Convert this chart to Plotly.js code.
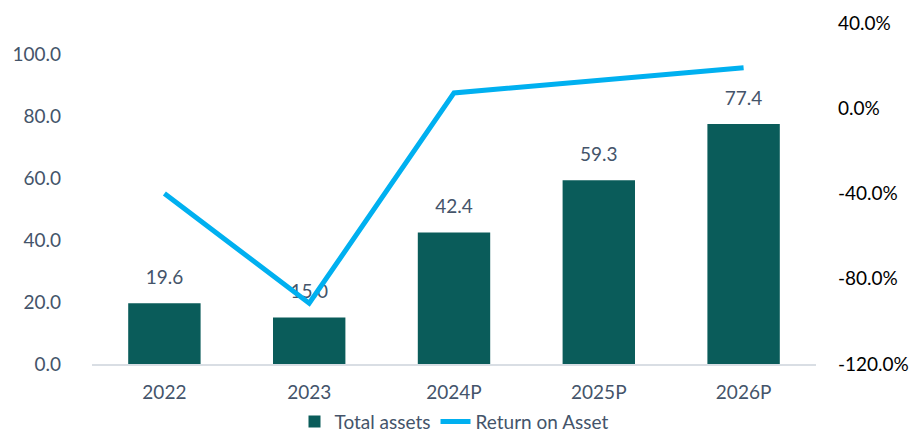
<!DOCTYPE html>
<html>
<head>
<meta charset="utf-8">
<script src="https://cdn.plot.ly/plotly-3.0.1.min.js"></script>
<style>
  html, body { margin: 0; padding: 0; background: #fff; }
  #chart { width: 918px; height: 437px; }
</style>
</head>
<body>
<div id="chart"></div>
<script>
const categories = ["2022", "2023", "2024P", "2025P", "2026P"]
const totalAssets = [19.6, 15.0, 42.4, 59.3, 77.4]
const returnOnAsset = [-40.0, -91.5, 7.2, 13.0, 19.0]
const roaTicks = [-120, -80, -40, 0, 40]

const slate = "#44546A"

async function createChart() {
    const assetsBars = {
        x: categories,
        y: totalAssets,
        type: "bar",
        name: "Total assets",
        marker: { color: "#0A5C5A" },
        hoverinfo: "skip"
    }

    // value labels sit a bit above each bar, under the line
    const assetsLabels = {
        x: categories,
        y: totalAssets,
        type: "scatter",
        mode: "markers+text",
        text: totalAssets.map(v => v.toFixed(1)),
        textposition: "top center",
        textfont: { family: "Lato, sans-serif", size: 19, color: slate },
        marker: { size: 22, opacity: 0 },
        showlegend: false,
        hoverinfo: "skip",
        cliponaxis: false
    }

    const roaLine = {
        x: categories,
        y: returnOnAsset,
        type: "scatter",
        mode: "lines",
        name: "Return on Asset",
        yaxis: "y2",
        line: { color: "#00B0F0", width: 5 },
        hoverinfo: "skip"
    }

    const layout = {
        width: 918,
        height: 437,
        margin: { l: 92, r: 102, t: 23, b: 73 },
        paper_bgcolor: "#fff",
        plot_bgcolor: "#fff",
        font: { family: "Lato, sans-serif", size: 19, color: slate },
        bargap: 0.5,
        showlegend: true,
        legend: {
            orientation: "h",
            x: 0.5,
            xanchor: "center",
            yref: "container",
            y: 0.035,
            yanchor: "middle",
            font: { size: 19, color: slate },
            traceorder: "normal"
        },
        xaxis: {
            type: "category",
            showgrid: false,
            showline: true,
            linecolor: "#D9DEE4",
            linewidth: 1.5,
            ticks: "",
            ticklabelstandoff: 11,
            tickfont: { size: 19, color: slate }
        },
        yaxis: {
            range: [0, 110],
            tick0: 0,
            dtick: 20,
            tickformat: ".1f",
            showgrid: false,
            zeroline: false,
            showline: false,
            ticks: "",
            ticklabelstandoff: 30,
            tickfont: { size: 19, color: slate }
        },
        yaxis2: {
            overlaying: "y",
            side: "right",
            range: [-120, 40],
            tickmode: "array",
            tickvals: roaTicks,
            ticktext: roaTicks.map(v => v.toFixed(1) + "%"),
            showgrid: false,
            zeroline: false,
            showline: false,
            ticks: "",
            ticklabelstandoff: 21,
            tickfont: { size: 19, color: "#000" }
        }
    }

    await Plotly.newPlot("chart", [assetsBars, assetsLabels, roaLine], layout, { displayModeBar: false, staticPlot: true })
}

createChart()
</script>
</body>
</html>
